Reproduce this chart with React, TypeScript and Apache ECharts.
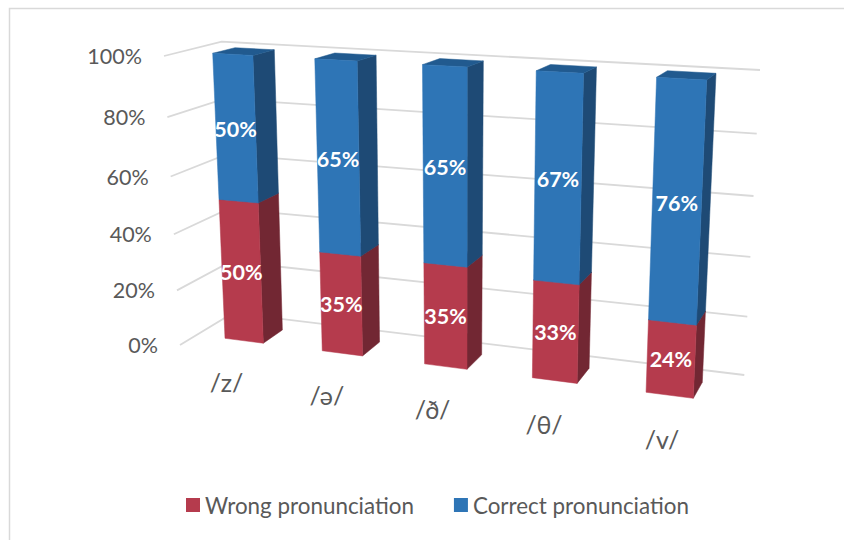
import React, { useEffect, useRef } from "react";
import * as echarts from "echarts";

const categories = ["/z/", "/ə/", "/ð/", "/θ/", "/v/"];
const wrongValues = [50, 35, 35, 33, 24];
const correctValues = [50, 65, 65, 67, 76];
const tickValues = [0, 20, 40, 60, 80, 100];
const tickLabels = ["0%", "20%", "40%", "60%", "80%", "100%"];

const WRONG = { front: "#B53B4D", side: "#722733", top: "#8A2E3C" };
const CORRECT = { front: "#2E75B6", side: "#1E4A75", top: "#215A8F" };
const GRID = "#D9D9D9";
const TEXT = "#595959";
const FONT = "Lato, 'Noto Sans', sans-serif";

type P = [number, number];

// perspective map of the unit square, corners in order (0,0) (1,0) (1,1) (0,1)
function homography(p0: P, p1: P, p2: P, p3: P) {
  const dx1 = p1[0] - p2[0], dx2 = p3[0] - p2[0], sx = p0[0] - p1[0] + p2[0] - p3[0];
  const dy1 = p1[1] - p2[1], dy2 = p3[1] - p2[1], sy = p0[1] - p1[1] + p2[1] - p3[1];
  const den = dx1 * dy2 - dx2 * dy1;
  const g = (sx * dy2 - dx2 * sy) / den;
  const h = (dx1 * sy - sx * dy1) / den;
  const a = p1[0] - p0[0] + g * p1[0], b = p3[0] - p0[0] + h * p3[0], c = p0[0];
  const d = p1[1] - p0[1] + g * p1[1], e = p3[1] - p0[1] + h * p3[1], f = p0[1];
  return (s: number, t: number): P => {
    const w = g * s + h * t + 1;
    return [(a * s + b * t + c) / w, (d * s + e * t + f) / w];
  };
}

// planes of the 3D scene
const barFront = homography([225, 338.3], [693.3, 398.3], [706.7, 80], [212.7, 53.3]);
const barBack = homography([244.8, 325.3], [702.3, 382.3], [716, 73.3], [235, 47.7]);
const sideWall = homography([180, 345], [233, 313], [221.7, 41.7], [164, 56]);
const backWall = homography([233, 313], [744.3, 375], [760, 70], [221.7, 41.7]);

const BAR_BAND = 0.4; // share of a category's band that a bar fills
const U0 = 0.3;
const U1 = 4.7;
const toS = (u: number) => (u - U0) / (U1 - U0);
const front = (u: number, t: number) => barFront(toS(u), t);
const back = (u: number, t: number) => barBack(toS(u), t);

function flatToScene(params: any, pt: number[]) {
  const cs = params.coordSys;
  return {
    u: ((pt[0] - cs.x) / cs.width) * categories.length,
    t: 1 - (pt[1] - cs.y) / cs.height,
  };
}

function barRenderer(colors: typeof WRONG, dyLabel: number) {
  return (params: any, api: any) => {
    const i = api.value(0);
    const lo = api.value(1);
    const hi = api.value(2);
    const band = api.size([1, 0])[0];
    const c0 = api.coord([i, lo]);
    const c1 = api.coord([i, hi]);
    const halfW = (band * BAR_BAND) / 2;
    const a = flatToScene(params, [c0[0] - halfW, c0[1]]);
    const b = flatToScene(params, [c0[0] + halfW, c1[1]]);
    const uL = a.u, uR = b.u, t0 = a.t, t1 = b.t;
    const mid = front((uL + uR) / 2, (t0 + t1) / 2);
    const poly = (points: P[], fill: string) => ({
      type: "polygon",
      shape: { points },
      style: { fill, stroke: fill, lineWidth: 0.5 },
    });
    return {
      type: "group",
      children: [
        poly([front(uR, t0), back(uR, t0), back(uR, t1), front(uR, t1)], colors.side),
        poly([front(uL, t1), front(uR, t1), back(uR, t1), back(uL, t1)], colors.top),
        poly([front(uL, t0), front(uR, t0), front(uR, t1), front(uL, t1)], colors.front),
        {
          type: "text",
          style: {
            text: hi - lo + "%",
            x: mid[0],
            y: mid[1] + dyLabel,
            align: "center",
            verticalAlign: "middle",
            fill: "#FFFFFF",
            fontFamily: FONT,
            fontWeight: "bold",
            fontSize: 21.5,
          },
        },
      ],
    };
  };
}

function gridRenderer(params: any, api: any) {
  const v = api.value(1);
  const t = flatToScene(params, api.coord([0, v])).t;
  const start = sideWall(0, t);
  return {
    type: "group",
    children: [
      {
        type: "polyline",
        shape: { points: [start, sideWall(1, t), backWall(1, t)] },
        style: { fill: "none", stroke: GRID, lineWidth: 1.8 },
      },
      {
        type: "text",
        style: {
          text: tickLabels[params.dataIndex],
          x: start[0] - 22,
          y: start[1],
          align: "right",
          verticalAlign: "middle",
          fill: TEXT,
          fontFamily: FONT,
          fontSize: 21.5,
        },
      },
    ],
  };
}

function categoryRenderer(params: any, api: any) {
  const i = api.value(0);
  const c = api.coord([i, 0]);
  const { u, t } = flatToScene(params, c);
  const f = front(u, t);
  const g = back(u, t);
  return {
    type: "text",
    style: {
      text: categories[params.dataIndex],
      x: 2 * f[0] - g[0] + 2,
      y: 2 * f[1] - g[1] + 28,
      align: "center",
      verticalAlign: "middle",
      fill: TEXT,
      fontFamily: FONT,
      fontSize: 25,
    },
  };
}

export default function App() {
  const ref = useRef<HTMLDivElement>(null);
  useEffect(() => {
    const chart = echarts.init(ref.current!, undefined, { renderer: "svg" });
    chart.setOption({
      animation: false,
      backgroundColor: "#FFFFFF",
      grid: { left: 150, right: 100, top: 60, bottom: 190 },
      xAxis: { type: "category", data: categories, show: false },
      yAxis: { type: "value", min: 0, max: 100, interval: 20, show: false },
      legend: {
        left: 181,
        top: 489,
        itemWidth: 14,
        itemHeight: 14,
        itemGap: 40,
        icon: "rect",
        selectedMode: false,
        data: ["Wrong pronunciation", "Correct pronunciation"],
        textStyle: { color: TEXT, fontFamily: FONT, fontSize: 22.4 },
      },
      graphic: [
        {
          type: "polyline",
          shape: { points: [[9.5, 540], [9.5, 8.5], [844, 8.5]] },
          style: { fill: "none", stroke: GRID, lineWidth: 1.5 },
          silent: true,
        },
      ],
      series: [
        {
          type: "custom",
          name: "grid",
          z: 1,
          clip: false,
          silent: true,
          renderItem: gridRenderer,
          encode: { x: 0, y: 1 },
          data: tickValues.map((v) => [0, v]),
        },
        {
          type: "custom",
          name: "axis labels",
          z: 1,
          clip: false,
          silent: true,
          renderItem: categoryRenderer,
          encode: { x: 0, y: 1 },
          data: categories.map((_, i) => [i, 0]),
        },
        {
          type: "custom",
          name: "Wrong pronunciation",
          z: 2,
          clip: false,
          silent: true,
          itemStyle: { color: WRONG.front },
          renderItem: barRenderer(WRONG, 0),
          encode: { x: 0, y: [1, 2] },
          data: wrongValues.map((v, i) => [i, 0, v]),
        },
        {
          type: "custom",
          name: "Correct pronunciation",
          z: 3,
          clip: false,
          silent: true,
          itemStyle: { color: CORRECT.front },
          renderItem: barRenderer(CORRECT, 0),
          encode: { x: 0, y: [1, 2] },
          data: correctValues.map((v, i) => [i, wrongValues[i], wrongValues[i] + v]),
        },
      ],
    });
    return () => chart.dispose();
  }, []);
  return (
    <div
      ref={ref}
      style={{ position: "fixed", left: 0, top: 0, width: 844, height: 540 }}
    />
  );
}
